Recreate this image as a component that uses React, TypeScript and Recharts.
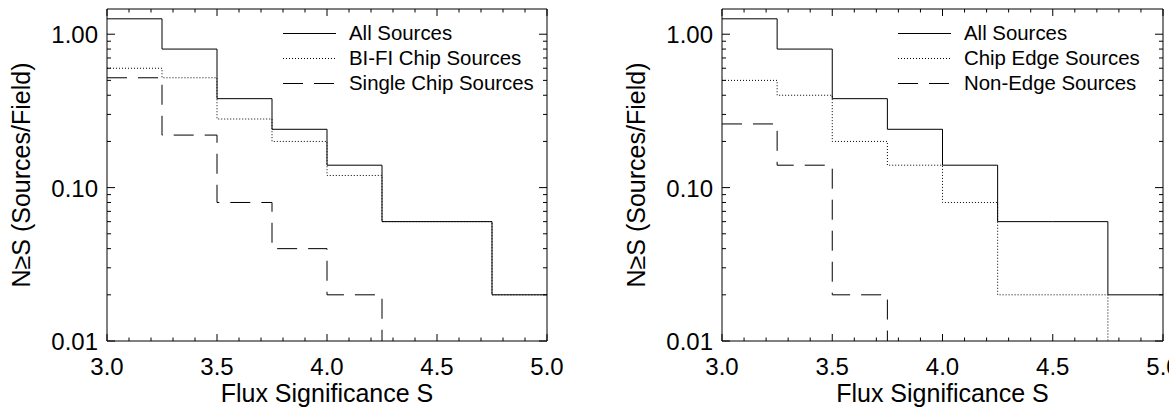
import { LineChart, Line, XAxis, YAxis, Legend } from 'recharts'

// bin edges (flux significance) - last point repeats the final bin so stepAfter reaches 5.0
const sigBins = [3.0, 3.25, 3.5, 3.75, 4.0, 4.25, 4.5, 4.75, 5.0]

// empty bins, drawn below the axis floor and clipped
const EMPTY = 0.001

const allSources = [1.26, 0.8, 0.38, 0.24, 0.14, 0.06, 0.06, 0.02, 0.02]
const biFiChip = [0.6, 0.52, 0.28, 0.2, 0.12, 0.06, 0.06, 0.02, 0.02]
const singleChip = [0.52, 0.22, 0.08, 0.04, 0.02, EMPTY, EMPTY, EMPTY, EMPTY]
const chipEdge = [0.5, 0.4, 0.2, 0.14, 0.08, 0.02, 0.02, EMPTY, EMPTY]
const nonEdge = [0.26, 0.14, 0.02, EMPTY, EMPTY, EMPTY, EMPTY, EMPTY, EMPTY]

const xTicks = [
  3.0, 3.1, 3.2, 3.3, 3.4, 3.5, 3.6, 3.7, 3.8, 3.9, 4.0, 4.1, 4.2, 4.3, 4.4, 4.5,
  4.6, 4.7, 4.8, 4.9, 5.0,
]
const yTicks = [
  0.01, 0.02, 0.03, 0.04, 0.05, 0.06, 0.07, 0.08, 0.09, 0.1, 0.2, 0.3, 0.4, 0.5,
  0.6, 0.7, 0.8, 0.9, 1.0,
]
const yMajor = [0.01, 0.1, 1.0]

const FONT = '"Liberation Sans", Arial, Helvetica, sans-serif'
const SOLID = undefined
const DOTTED = '1 2'
const DASHED = '20 11'

type Series = { key: string; name: string; values: number[]; dash?: string }

const leftSeries: Series[] = [
  { key: 'all', name: 'All Sources', values: allSources, dash: SOLID },
  { key: 'bifi', name: 'BI-FI Chip Sources', values: biFiChip, dash: DOTTED },
  { key: 'single', name: 'Single Chip Sources', values: singleChip, dash: DASHED },
]
const rightSeries: Series[] = [
  { key: 'all', name: 'All Sources', values: allSources, dash: SOLID },
  { key: 'edge', name: 'Chip Edge Sources', values: chipEdge, dash: DOTTED },
  { key: 'nonedge', name: 'Non-Edge Sources', values: nonEdge, dash: DASHED },
]

const isMajorX = (v: number) => Math.abs(v * 2 - Math.round(v * 2)) < 1e-6
const isMajorY = (v: number) => yMajor.some((m) => Math.abs(m - v) < 1e-9)

function BottomTick({ x, y, payload }: any) {
  const major = isMajorX(payload.value)
  return (
    <g>
      <line x1={x} x2={x} y1={y} y2={y - (major ? 7 : 3.5)} stroke="#000" />
      {major && (
        <text x={x} y={y + 34} textAnchor="middle" fontSize={24} fontFamily={FONT} fill="#000">
          {payload.value.toFixed(1)}
        </text>
      )}
    </g>
  )
}

function TopTick({ x, y, payload }: any) {
  const major = isMajorX(payload.value)
  return <line x1={x} x2={x} y1={y} y2={y + (major ? 7 : 3.5)} stroke="#000" />
}

function LeftTick({ x, y, payload }: any) {
  const major = isMajorY(payload.value)
  return (
    <g>
      <line x1={x} x2={x + (major ? 8 : 4)} y1={y} y2={y} stroke="#000" />
      {major && (
        <text x={x - 9} y={y + 9} textAnchor="end" fontSize={24} fontFamily={FONT} fill="#000">
          {payload.value.toFixed(2)}
        </text>
      )}
    </g>
  )
}

function RightTick({ x, y, payload }: any) {
  const major = isMajorY(payload.value)
  return <line x1={x} x2={x - (major ? 8 : 4)} y1={y} y2={y} stroke="#000" />
}

function LegendBox({ series }: { series: Series[] }) {
  return (
    <div style={{ fontFamily: FONT, fontSize: 20.4, color: '#000' }}>
      {series.map((s) => (
        <div key={s.key} style={{ display: 'flex', alignItems: 'center', height: 25 }}>
          <svg width={53} height={25} style={{ marginRight: 13 }}>
            <line x1={0} x2={53} y1={12.5} y2={12.5} stroke="#000" strokeDasharray={s.dash} />
          </svg>
          <span style={{ whiteSpace: 'nowrap' }}>{s.name}</span>
        </div>
      ))}
    </div>
  )
}

function Panel({
  series,
  width,
  plotLeft,
  plotRight,
}: {
  series: Series[]
  width: number
  plotLeft: number
  plotRight: number
}) {
  const data = sigBins.map((s, i) => {
    const row: Record<string, number> = { s }
    series.forEach((ser) => (row[ser.key] = ser.values[i]))
    return row
  })
  const height = 410
  const top = 9
  const bottom = 69
  const axisSize = 1

  return (
    <LineChart
      width={width}
      height={height}
      data={data}
      margin={{
        top: top - axisSize,
        bottom: bottom - axisSize,
        left: plotLeft - axisSize,
        right: width - plotRight - axisSize,
      }}
    >
      <XAxis
        dataKey="s"
        type="number"
        domain={[3, 5]}
        ticks={xTicks}
        interval={0}
        height={axisSize}
        tickSize={0}
        tickMargin={0}
        tick={<BottomTick />}
        axisLine={{ stroke: '#000' }}
        allowDataOverflow
        label={{
          content: (p: any) => {
            const vb = p.viewBox || {}
            return (
              <text
                x={vb.x + vb.width / 2}
                y={vb.y + 61}
                textAnchor="middle"
                fontSize={25}
                fontFamily={FONT}
                fill="#000"
              >
                Flux Significance S
              </text>
            )
          },
        }}
      />
      <XAxis
        xAxisId="top"
        orientation="top"
        dataKey="s"
        type="number"
        domain={[3, 5]}
        ticks={xTicks}
        interval={0}
        height={axisSize}
        tickSize={0}
        tickMargin={0}
        tick={<TopTick />}
        axisLine={{ stroke: '#000' }}
      />
      <YAxis
        scale="log"
        type="number"
        domain={[0.01, 1.46]}
        ticks={yTicks}
        interval={0}
        width={axisSize}
        tickSize={0}
        tickMargin={0}
        tick={<LeftTick />}
        axisLine={{ stroke: '#000' }}
        allowDataOverflow
        label={{
          content: (p: any) => {
            const vb = p.viewBox || {}
            const cx = vb.x + vb.width - 86
            const cy = vb.y + vb.height / 2
            return (
              <text
                x={cx}
                y={cy}
                transform={`rotate(-90, ${cx}, ${cy})`}
                textAnchor="middle"
                dominantBaseline="central"
                fontSize={25}
                fontFamily={FONT}
                fill="#000"
              >
                N≥S (Sources/Field)
              </text>
            )
          },
        }}
      />
      <YAxis
        yAxisId="right"
        orientation="right"
        scale="log"
        type="number"
        domain={[0.01, 1.46]}
        ticks={yTicks}
        interval={0}
        width={axisSize}
        tickSize={0}
        tickMargin={0}
        tick={<RightTick />}
        axisLine={{ stroke: '#000' }}
        allowDataOverflow
      />
      <Legend
        layout="vertical"
        align="center"
        verticalAlign="middle"
        wrapperStyle={{ left: plotLeft + 176, top: 20.5, width: 260 }}
        content={() => <LegendBox series={series} />}
      />
      {series.map((s) => (
        <Line
          key={s.key}
          type="stepAfter"
          dataKey={s.key}
          name={s.name}
          stroke="#000"
          strokeWidth={1}
          strokeDasharray={s.dash}
          dot={false}
          activeDot={false}
          isAnimationActive={false}
        />
      ))}
    </LineChart>
  )
}

export default function App() {
  return (
    <div
      style={{
        position: 'absolute',
        left: 0,
        top: 0,
        width: 1169,
        height: 410,
        display: 'flex',
        background: '#fff',
        overflow: 'hidden',
      }}
    >
      <Panel series={leftSeries} width={580} plotLeft={107} plotRight={547} />
      <Panel series={rightSeries} width={589} plotLeft={142} plotRight={583} />
    </div>
  )
}
